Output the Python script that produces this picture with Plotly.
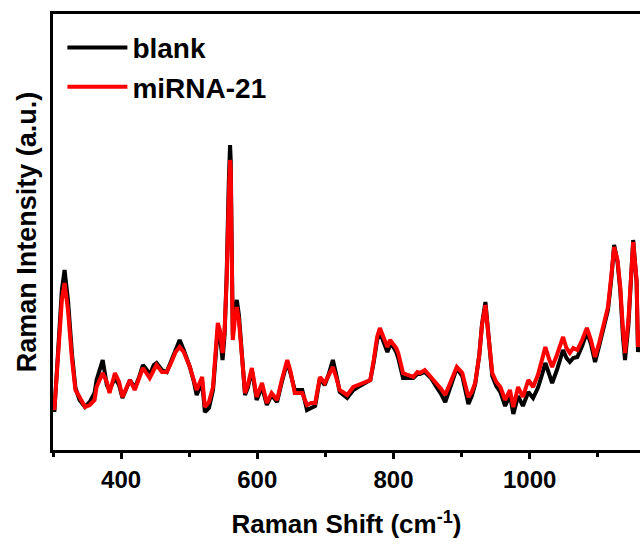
import plotly.graph_objects as go

# Raman shift (cm^-1)
shift = [302, 307, 313, 317, 322, 328, 333, 339, 347, 354, 361, 364, 373, 379, 383, 391, 397, 402, 408, 413,
         420, 426, 432, 438, 442, 448, 452, 460, 467, 474, 480, 486, 492, 501, 507, 511, 519, 523, 529, 535,
         539, 542, 545, 549, 552, 555, 558, 560, 561, 564, 567, 570, 573, 577, 582, 586, 592, 595, 599, 607,
         611, 614, 621, 629, 636, 644, 649, 655, 666, 673, 679, 685, 692, 699, 705, 711, 717, 721, 732, 741,
         748, 755, 766, 771, 776, 780, 786, 791, 795, 799, 804, 807, 814, 821, 829, 835, 839, 846, 855, 864,
         870, 876, 885, 893, 901, 905, 910, 915, 920, 926, 930, 935, 939, 945, 951, 957, 964, 971, 976, 983,
         990, 998, 1005, 1012, 1018, 1023, 1029, 1033, 1040, 1045, 1049, 1054, 1059, 1064, 1070, 1077, 1084, 1090, 1096, 1102,
         1108, 1112, 1115, 1120, 1124, 1129, 1133, 1137, 1140, 1145, 1149, 1152, 1157, 1159, 1162]

# miRNA-21 intensity (a.u.)
mirna = [40, 90, 150, 167, 140, 90, 60, 53, 43, 45, 50, 63, 77, 68, 57, 77, 68, 53, 63, 70,
         60, 72, 82, 76, 72, 80, 85, 78, 78, 88, 98, 103, 98, 83, 70, 60, 73, 43, 48, 63,
         100, 127, 120, 97, 120, 170, 250, 290, 280, 110, 130, 143, 130, 97, 57, 65, 82, 70, 53, 67,
         55, 47, 57, 50, 70, 90, 78, 57, 57, 45, 47, 47, 73, 67, 75, 83, 70, 60, 55, 63,
         65, 67, 70, 90, 113, 122, 110, 103, 110, 107, 102, 97, 77, 75, 73, 78, 77, 80, 73, 67,
         61, 55, 70, 83, 77, 65, 53, 58, 67, 95, 125, 145, 120, 77, 68, 63, 50, 60, 43, 63,
         53, 70, 63, 75, 90, 103, 90, 83, 95, 105, 113, 102, 97, 102, 100, 110, 122, 110, 93, 107,
         123, 132, 143, 175, 203, 190, 163, 120, 97, 130, 180, 208, 170, 103, 120]

# blank intensity (a.u.)
blank = [38, 92, 160, 180, 150, 95, 62, 50, 43, 48, 57, 70, 90, 65, 60, 72, 65, 52, 62, 70,
         62, 72, 85, 80, 75, 85, 87, 80, 78, 90, 102, 110, 100, 83, 68, 55, 68, 38, 42, 60,
         95, 120, 115, 90, 115, 175, 265, 305, 290, 115, 140, 150, 135, 100, 55, 62, 80, 68, 50, 63,
         52, 45, 55, 48, 68, 88, 76, 60, 60, 40, 42, 44, 72, 65, 76, 90, 72, 58, 52, 60,
         63, 66, 70, 88, 110, 118, 106, 98, 105, 104, 98, 92, 72, 72, 72, 76, 76, 78, 72, 62,
         56, 48, 66, 82, 74, 60, 46, 54, 66, 95, 126, 148, 120, 74, 64, 58, 44, 55, 36, 54,
         44, 58, 52, 62, 75, 87, 75, 67, 80, 90, 100, 92, 88, 92, 93, 104, 118, 106, 88, 104,
         120, 128, 140, 172, 205, 188, 160, 113, 90, 125, 176, 210, 168, 98, 115]

x_ticks = [400, 600, 800, 1000]
x_minor_ticks = [300, 500, 700, 900, 1100]
x_range = [300, 1162]
y_range = [0, 436]

FONT = "Liberation Sans, Arial, sans-serif"

fig = go.Figure()
fig.add_trace(go.Scatter(x=shift, y=blank, mode="lines", name="blank",
                         line=dict(color="black", width=4)))
fig.add_trace(go.Scatter(x=shift, y=mirna, mode="lines", name="miRNA-21",
                         line=dict(color="#ff0000", width=4)))

fig.update_layout(
    width=640, height=544,
    margin=dict(l=53, r=0, t=14, b=94),
    paper_bgcolor="white", plot_bgcolor="white",
    font=dict(family=FONT, color="black"),
    showlegend=True,
    legend=dict(x=0.016, y=0.98, xanchor="left", yanchor="top",
                bgcolor="rgba(0,0,0,0)", borderwidth=0,
                font=dict(size=28, family=FONT, weight="bold", color="black"),
                itemwidth=60, tracegroupgap=0),
    xaxis=dict(range=x_range, tickvals=x_ticks, ticks="outside", ticklen=6, tickwidth=3,
               tickcolor="black", showline=True, linewidth=3, linecolor="black", mirror=True,
               showgrid=False, zeroline=False,
               tickfont=dict(size=24, family=FONT, weight="bold", color="black"),
               minor=dict(tickvals=x_minor_ticks, ticks="outside", ticklen=4,
                          tickwidth=2.5, tickcolor="black", showgrid=False),
               title=dict(text="Raman Shift (cm<sup>-1</sup>)", standoff=24,
                          font=dict(size=26, family=FONT, weight="bold", color="black"))),
    yaxis=dict(range=y_range, showticklabels=False, ticks="", showline=True, linewidth=3,
               linecolor="black", mirror=False, showgrid=False, zeroline=False,
               title=dict(text="Raman Intensity (a.u.)", standoff=6,
                          font=dict(size=27, family=FONT, weight="bold", color="black"))),
)

fig.write_html("out.html")
